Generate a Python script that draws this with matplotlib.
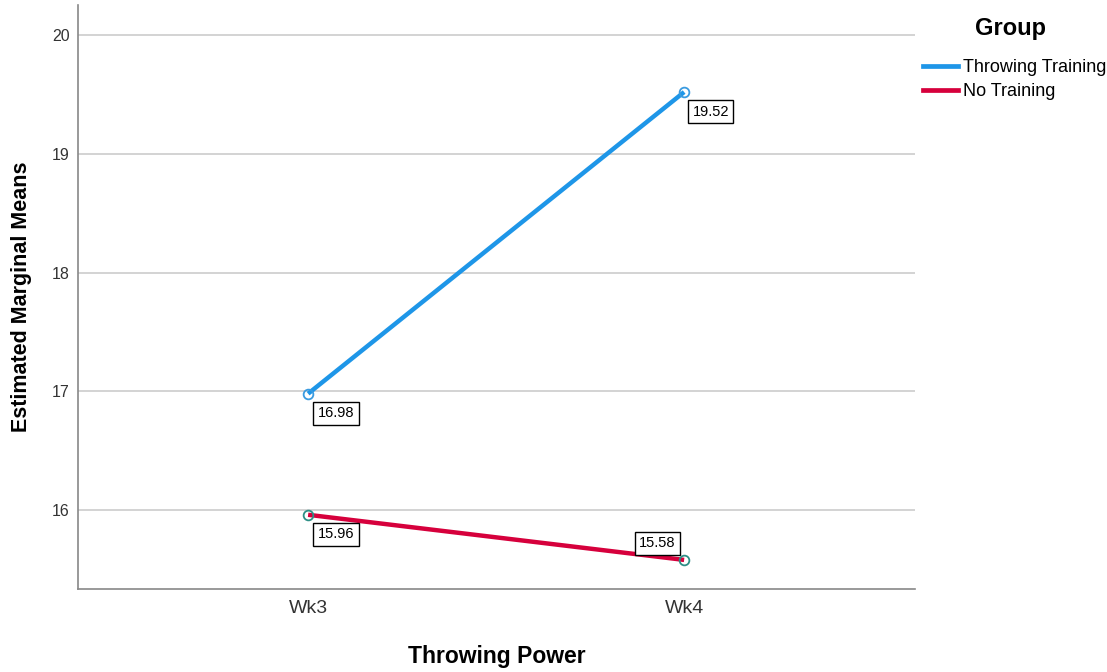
import matplotlib.pyplot as plt
from matplotlib.lines import Line2D

weeks = ["Wk3", "Wk4"]
groups = ["Throwing Training", "No Training"]
throwing = [16.98, 19.52]
no_training = [15.96, 15.58]
y_ticks = [16, 17, 18, 19, 20]

line_colors = ["#1E96E8", "#D6003C"]
marker_edges = ["#3A9BE0", "#2E8F86"]

fig = plt.figure(figsize=(11.07, 6.72), dpi=100)
ax = fig.add_axes([78 / 1107, 1 - 589 / 672, (915 - 78) / 1107, (589 - 5) / 672])

x = list(range(len(weeks)))
series = [throwing, no_training]
for vals, lc, me in zip(series, line_colors, marker_edges):
    ax.plot(x, vals, color=lc, lw=3.2, zorder=3, solid_capstyle="butt")
    ax.plot(x, vals, ls="none", marker="o", ms=7, mfc="none", mec=me, mew=1.3, zorder=4)

box = dict(boxstyle="square,pad=0.3", fc="white", ec="black", lw=1)
# label placement: offsets in points (below-right, except last red one above-left)
placements = {
    (0, 0): ((7, -9), "left", "top"),
    (0, 1): ((6, -9), "left", "top"),
    (1, 0): ((7, -9), "left", "top"),
    (1, 1): ((-6, 7), "right", "bottom"),
}
for si, vals in enumerate(series):
    for xi, v in enumerate(vals):
        off, ha, va = placements[(si, xi)]
        ax.annotate(f"{v:.2f}", (xi, v), xytext=off, textcoords="offset points",
                    ha=ha, va=va, fontsize=10.5, family="Liberation Sans",
                    bbox=box, zorder=5)

ax.set_xlim(-0.612, 1.614)
ax.set_ylim(15.335, 20.253)
ax.set_xticks(x)
ax.set_xticklabels(weeks, fontsize=14, family="Liberation Sans", color="#333333")
ax.set_yticks(y_ticks)
ax.set_yticklabels([str(t) for t in y_ticks], fontsize=11.5, family="Liberation Sans", color="#333333")
ax.tick_params(length=0)
ax.tick_params(axis="y", pad=6)
ax.tick_params(axis="x", pad=8)
ax.grid(axis="y", color="#D3D3D3", lw=1.4)
ax.set_axisbelow(True)
for s in ["top", "right"]:
    ax.spines[s].set_visible(False)
for s in ["left", "bottom"]:
    ax.spines[s].set_color("#888888")
    ax.spines[s].set_linewidth(1.2)

ax.set_xlabel("Throwing Power", fontsize=16.5, fontweight="bold", family="Liberation Sans", labelpad=20)
ax.set_ylabel("Estimated Marginal Means", fontsize=15.5, fontweight="bold",
              family="Liberation Sans", labelpad=14)

fig.text(1010 / 1107, 1 - 29 / 672, "Group", ha="center", va="center",
         fontsize=17, fontweight="bold", family="Liberation Sans")
handles = [Line2D([0], [0], color=c, lw=3.4) for c in line_colors]
fig.legend(handles, groups, loc="upper left", bbox_to_anchor=(907 / 1107, 1 - 43 / 672),
           frameon=False, handlelength=1.9, handletextpad=0.3,
           labelspacing=0.4, prop={"family": "Liberation Sans", "size": 13})

fig.savefig("out.png", dpi=100)
